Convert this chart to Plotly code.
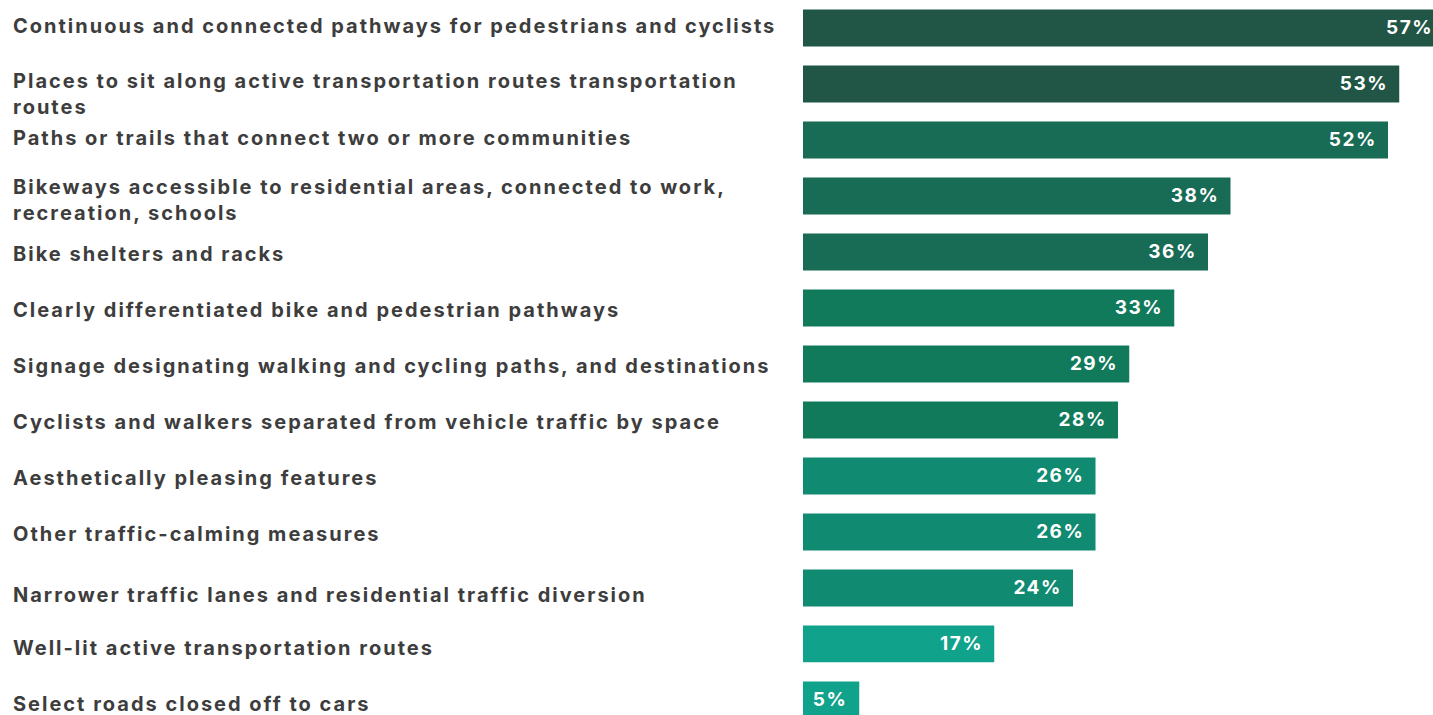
import plotly.graph_objects as go

categories = [
    "Continuous and connected pathways for pedestrians and cyclists",
    "Places to sit along active transportation routes transportation<br>routes",
    "Paths or trails that connect two or more communities",
    "Bikeways accessible to residential areas, connected to work,<br>recreation, schools",
    "Bike shelters and racks",
    "Clearly differentiated bike and pedestrian pathways",
    "Signage designating walking and cycling paths, and destinations",
    "Cyclists and walkers separated from vehicle traffic by space",
    "Aesthetically pleasing features",
    "Other traffic-calming measures",
    "Narrower traffic lanes and residential traffic diversion",
    "Well-lit active transportation routes",
    "Select roads closed off to cars",
]
values = [57, 53, 52, 38, 36, 33, 29, 28, 26, 26, 24, 17, 5]
bar_colors = [
    "#215646", "#215646",
    "#186b54", "#186b54", "#186b54",
    "#117a5b", "#117a5b", "#117a5b",
    "#108a70", "#108a70", "#108a70",
    "#10a28a", "#10a28a",
]

W, H = 1433, 715
LEFT = 803

idx = list(range(len(categories)))
fig = go.Figure()
fig.add_trace(go.Bar(
    x=values,
    y=idx,
    orientation="h",
    marker=dict(color=bar_colors, line=dict(width=0)),
    text=[f"{v}%\u00a0\u00a0" for v in values],
    textposition="inside",
    insidetextanchor="end",
    constraintext="none",
    textfont=dict(family="Inter", size=19, color="white", weight="bold"),
    width=0.66,
    hoverinfo="skip",
))

label_shift = {0: 2, 1: -10, 2: 2, 3: -4, 10: -7, 11: -4, 12: -4}
for i, c in enumerate(categories):
    fig.add_annotation(
        x=(11 - LEFT) / (W - LEFT), xref="paper", xanchor="left",
        y=i, yref="y", yanchor="middle", yshift=label_shift.get(i, -2),
        text=c, align="left", showarrow=False,
        font=dict(family="Inter", size=20, color="#3d3d3d", weight="bold"),
    )

fig.update_layout(
    width=W, height=H,
    margin=dict(l=LEFT, r=0, t=0, b=0),
    paper_bgcolor="white", plot_bgcolor="white",
    showlegend=False,
    xaxis=dict(range=[0, 56], visible=False, fixedrange=True),
    yaxis=dict(range=[12.27, -0.5], visible=False, fixedrange=True),
)

post = """
document.querySelectorAll('.annotation-text').forEach(function(e){e.style.letterSpacing='2px';});
document.querySelectorAll('.bartext').forEach(function(e){e.style.letterSpacing='1.5px';});
"""

fig.write_html("out.html", post_script=post)
